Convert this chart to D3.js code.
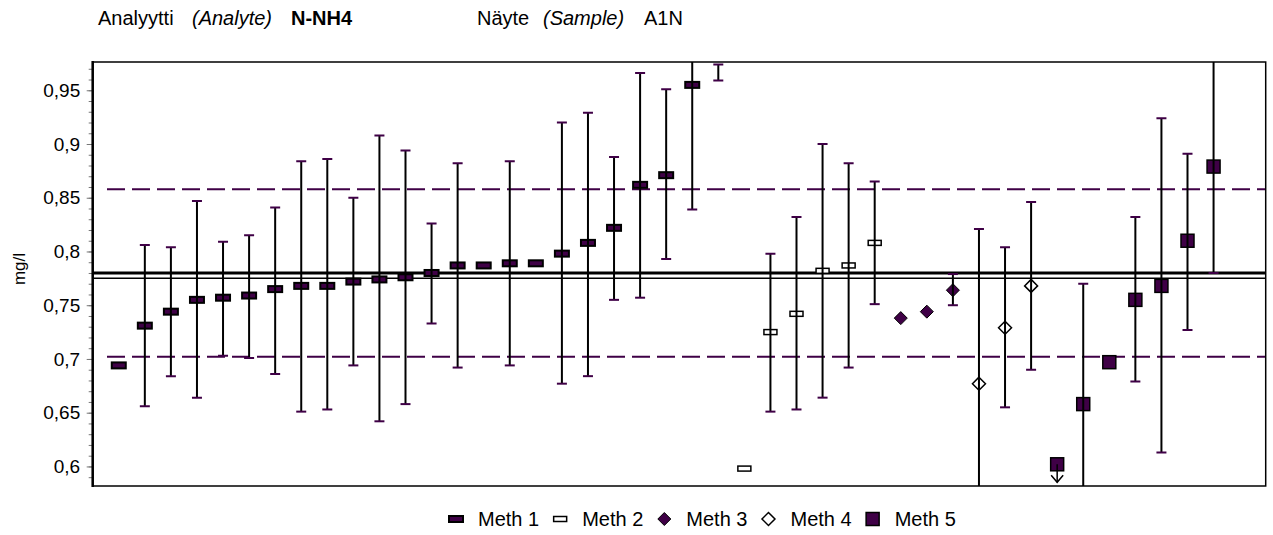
<!DOCTYPE html>
<html><head><meta charset="utf-8">
<script src="https://cdn.jsdelivr.net/npm/d3@7"></script>
<style>body{margin:0;background:#fff;overflow:hidden} text{font-family:"Liberation Sans",Arial,sans-serif;fill:#000}</style>
</head><body><svg id="c" width="1273" height="535"></svg>
<script>
// ---------- data ----------
const methods = ["Meth 1", "Meth 2", "Meth 3", "Meth 4", "Meth 5"];
const pointMethod = [0,0,0,0,0,0,0,0,0,0,0,0,0,0,0,0,0,0,0,0,0,0,0,0,
                     1,1,1,1,1,1, 2,2,2, 3,3,3, 4,4,4,4,4,4,4];
const values = [0.694,0.731,0.744,0.755,0.757,0.759,0.765,0.768,0.768,0.772,0.774,0.776,0.780,0.787,0.787,0.789,0.789,0.798,0.808,0.822,0.862,0.871,0.955,0.995,
                0.598,0.725,0.742,0.782,0.787,0.808,
                0.738,0.744,0.764,
                0.677,0.729,0.768,
                0.602,0.658,0.697,0.755,0.768,0.810,0.879];
const lows = [null,0.656,0.684,0.664,0.703,0.701,0.686,0.651,0.653,0.694,0.642,0.658,0.733,0.692,null,0.694,null,0.677,0.684,0.755,0.757,0.793,0.839,0.959,
              null,0.651,0.653,0.664,0.692,0.751,
              null,null,0.750,
              0.533,0.655,0.690,
              null,0.547,null,0.679,0.613,0.727,0.780];
const highs = [null,0.806,0.804,0.847,0.809,0.815,0.841,0.884,0.886,0.850,0.908,0.894,0.826,0.882,null,0.884,null,0.920,0.929,0.888,0.966,0.951,1.071,0.974,
               null,0.798,0.832,0.900,0.882,0.865,
               null,null,0.779,
               0.821,0.804,0.846,
               null,0.770,null,0.832,0.924,0.891,0.978];
const flags = ["","","","","","","","","","","","","","","","","","","","","","","","",
               "","","","","","",
               "","","",
               "","","",
               "<","","","","","",""];
const assignedValue = 0.780;
const meanValue = 0.775;
const lowerLimit = 0.702;
const upperLimit = 0.858;
const yTickValues = [0.6, 0.65, 0.7, 0.75, 0.8, 0.85, 0.9, 0.95];
const yTickLabels = ["0,6", "0,65", "0,7", "0,75", "0,8", "0,85", "0,9", "0,95"];
const headerTexts = ["Analyytti", "(Analyte)", "N-NH4", "Näyte", "(Sample)", "A1N"];
const yLabel = "mg/l";

// ---------- layout ----------
const L = 92.7, R = 1265.7, T = 62, B = 486;
const purple = "#3f0046";
const svg = d3.select("#c");

const x = d3.scaleLinear().domain([-1, 44]).range([L, R]);
const y = d3.scaleLinear().domain([0.5818, 0.9763]).range([B, T]);

svg.append("clipPath").attr("id", "clip").append("rect")
  .attr("x", L).attr("y", T).attr("width", R - L).attr("height", B - T);

// header
const hx = [98, 192, 291, 477, 543, 644];
const hStyle = ["normal", "italic", "bold", "normal", "italic", "normal"];
const h = svg.append("g").attr("font-size", 20);
headerTexts.forEach((t, i) => {
  const el = h.append("text").attr("x", hx[i]).attr("y", 25).text(t);
  if (hStyle[i] === "italic") el.attr("font-style", "italic");
  if (hStyle[i] === "bold") el.attr("font-weight", "bold");
});

// minor ticks
const minor = svg.append("g").attr("transform", `translate(${L},0)`)
  .call(d3.axisLeft(y).ticks(40).tickSize(4).tickFormat(""));
minor.select(".domain").remove();
minor.selectAll("line").attr("stroke", "#777").attr("stroke-width", 1);

// major axis
const ax = svg.append("g").attr("transform", `translate(${L},0)`)
  .call(d3.axisLeft(y).tickValues(yTickValues).tickSize(6)
        .tickFormat((d, i) => yTickLabels[i]));
ax.select(".domain").remove();
ax.selectAll("line").attr("stroke", "#777").attr("stroke-width", 1);
ax.selectAll("text").attr("font-size", 19).attr("font-family", "Liberation Sans, Arial, sans-serif")
  .attr("fill", "#000").attr("dx", -3.5);

svg.append("text").attr("transform", `translate(25,269) rotate(-90)`)
  .attr("text-anchor", "middle").attr("font-size", 17).text(yLabel);

const plot = svg.append("g").attr("clip-path", "url(#clip)");

// dashed limits
[lowerLimit, upperLimit].forEach(v => {
  plot.append("line").attr("x1", 107).attr("x2", R).attr("y1", y(v)).attr("y2", y(v))
    .attr("stroke", purple).attr("stroke-width", 2).attr("stroke-dasharray", "18,7");
});
// assigned value & mean
plot.append("line").attr("x1", L).attr("x2", R).attr("y1", y(assignedValue)).attr("y2", y(assignedValue))
  .attr("stroke", "#000").attr("stroke-width", 3);
plot.append("line").attr("x1", L).attr("x2", R).attr("y1", y(meanValue)).attr("y2", y(meanValue))
  .attr("stroke", "#000").attr("stroke-width", 1.5);

const idx = d3.range(values.length);

// markers
function drawMarker(g, m, cx, cy) {
  if (m === 0) {
    g.append("rect").attr("x", cx - 7).attr("y", cy - 3).attr("width", 14).attr("height", 6)
      .attr("fill", purple).attr("stroke", "#000").attr("stroke-width", 2);
  } else if (m === 1) {
    g.append("rect").attr("x", cx - 6.5).attr("y", cy - 2.5).attr("width", 13).attr("height", 5)
      .attr("fill", "#fff").attr("stroke", "#000").attr("stroke-width", 1.5);
  } else if (m === 2 || m === 3) {
    const s = 6.5;
    g.append("path").attr("d", `M${cx},${cy - s}L${cx + s},${cy}L${cx},${cy + s}L${cx - s},${cy}Z`)
      .attr("fill", m === 2 ? purple : "#fff").attr("stroke", "#000").attr("stroke-width", m === 2 ? 1 : 1.5);
  } else {
    g.append("rect").attr("x", cx - 6.5).attr("y", cy - 6.5).attr("width", 13).attr("height", 13)
      .attr("fill", purple).attr("stroke", "#000").attr("stroke-width", 1.5);
  }
}
const mg = plot.append("g");
idx.forEach(i => drawMarker(mg, pointMethod[i], x(i), y(values[i])));

// error bars
const eb = plot.append("g");
idx.filter(i => lows[i] !== null).forEach(i => {
  eb.append("line").attr("x1", x(i)).attr("x2", x(i)).attr("y1", y(lows[i])).attr("y2", y(highs[i]))
    .attr("stroke", "#000").attr("stroke-width", 2);
  [lows[i], highs[i]].forEach(v => {
    eb.append("line").attr("x1", x(i) - 5).attr("x2", x(i) + 5).attr("y1", y(v)).attr("y2", y(v))
      .attr("stroke", purple).attr("stroke-width", 2);
  });
});
// "below" arrows
idx.filter(i => flags[i] === "<").forEach(i => {
  const cx = x(i), cy = y(values[i]);
  eb.append("line").attr("x1", cx).attr("x2", cx).attr("y1", cy).attr("y2", cy + 18)
    .attr("stroke", "#000").attr("stroke-width", 1.5);
  eb.append("path").attr("d", `M${cx - 6},${cy + 11}L${cx},${cy + 18}L${cx + 6},${cy + 11}`)
    .attr("fill", "none").attr("stroke", "#000").attr("stroke-width", 1.5);
});

// frame
svg.append("rect").attr("x", L).attr("y", T).attr("width", R - L).attr("height", B - T)
  .attr("fill", "none").attr("stroke", "#000").attr("stroke-width", 1.5);
svg.append("line").attr("x1", L).attr("x2", L).attr("y1", T - 1).attr("y2", B + 1)
  .attr("stroke", "#000").attr("stroke-width", 2.5);

// legend
const lg = svg.append("g").attr("font-size", 20);
let lx = 456;
const ly = 519;
methods.forEach((name, m) => {
  drawMarker(lg, m, lx, ly);
  const t = lg.append("text").attr("x", lx + 22).attr("y", ly + 7).text(name);
  lx += 22 + t.node().getComputedTextLength() + 21;
});
</script></body></html>
